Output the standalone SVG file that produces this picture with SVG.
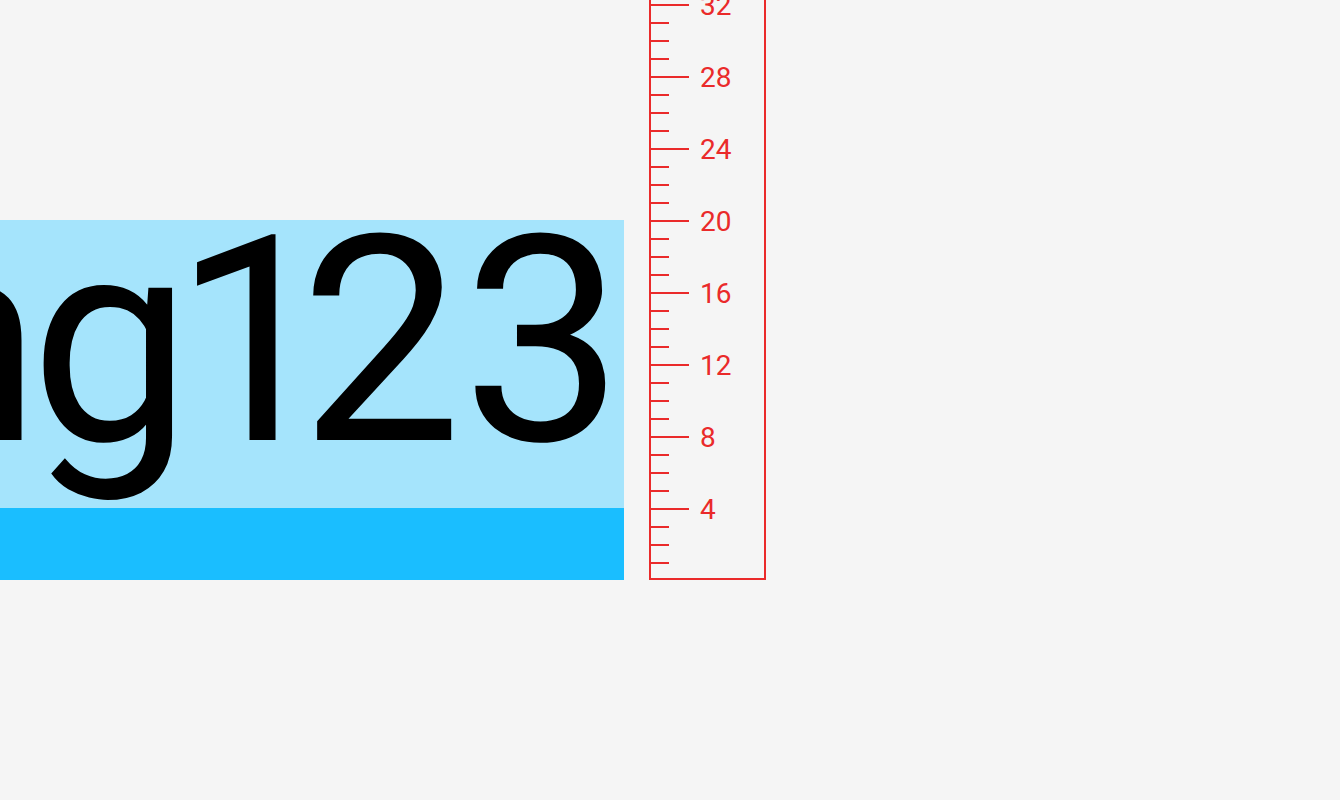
<svg xmlns="http://www.w3.org/2000/svg" width="1340" height="800" viewBox="0 0 1340 800">
<style>
.tick{stroke:#ea2a2a;stroke-width:2}
.lbl{fill:#ea2a2a;font-family:Roboto,"Liberation Sans",sans-serif;font-size:28px}
</style>
<rect x="0" y="0" width="1340" height="800" fill="#f5f5f5"/>
<g id="sample">
<rect x="0" y="220" width="624" height="288" fill="#a5e4fc"/>
<rect x="0" y="508" width="624" height="72" fill="#1abeff"/>
<text y="440" font-family="Roboto,'Liberation Sans',sans-serif" font-size="288" fill="#000"><tspan x="-118">n</tspan><tspan x="30">g</tspan><tspan x="173">1</tspan><tspan x="300">2</tspan><tspan x="462">3</tspan></text>
</g>
<g id="ruler">
<path class="tick" fill="none" d="M650 0V579H765V0"/>
<path class="tick" d="M650 563H669M650 545H669M650 527H669M650 509H689M650 491H669M650 473H669M650 455H669M650 437H689M650 419H669M650 401H669M650 383H669M650 365H689M650 347H669M650 329H669M650 311H669M650 293H689M650 275H669M650 257H669M650 239H669M650 221H689M650 203H669M650 185H669M650 167H669M650 149H689M650 131H669M650 113H669M650 95H669M650 77H689M650 59H669M650 41H669M650 23H669M650 5H689"/>
<text class="lbl" x="700" y="519">4</text>
<text class="lbl" x="700" y="447">8</text>
<text class="lbl" x="700" y="375">12</text>
<text class="lbl" x="700" y="303">16</text>
<text class="lbl" x="700" y="231">20</text>
<text class="lbl" x="700" y="159">24</text>
<text class="lbl" x="700" y="87">28</text>
<text class="lbl" x="700" y="15">32</text>
</g>
</svg>
